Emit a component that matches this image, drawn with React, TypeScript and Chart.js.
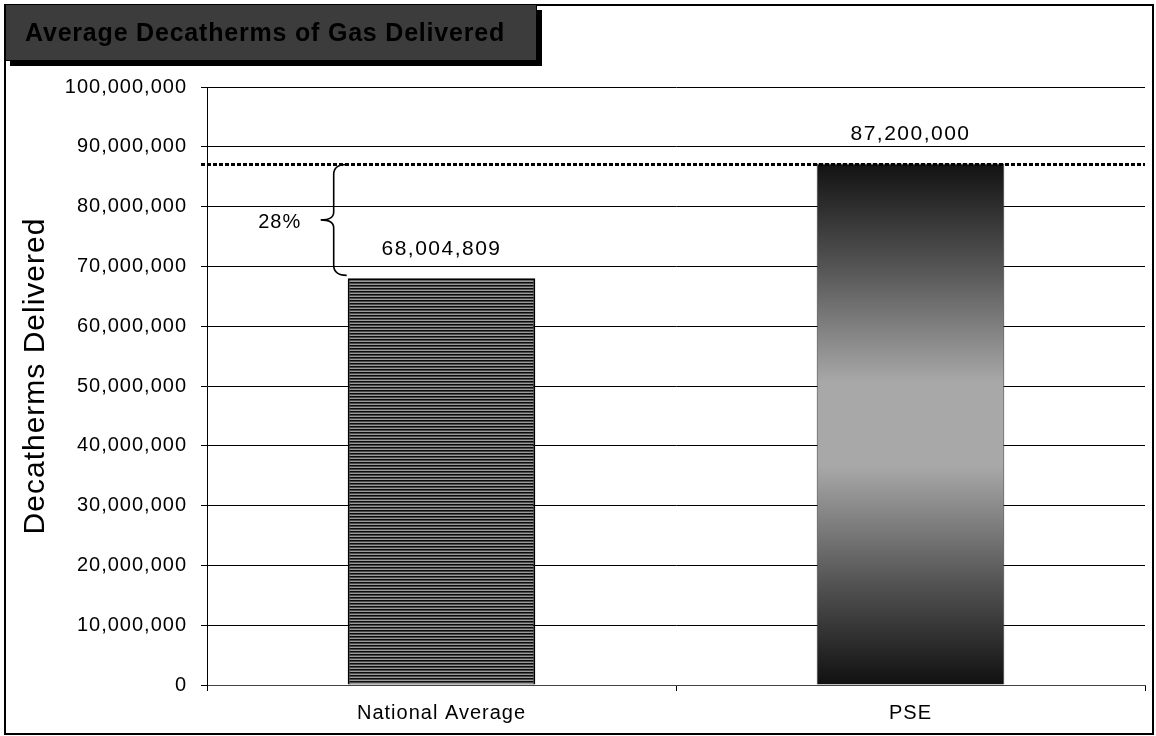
import React, { useEffect, useRef } from "react";
import { Chart, registerables } from "chart.js";

Chart.register(...registerables);

const categories = ["National Average", "PSE"];
const deliveredValues = [68004809, 87200000];
const yTickValues = [0, 10000000, 20000000, 30000000, 40000000, 50000000, 60000000, 70000000, 80000000, 90000000, 100000000];
const chartTitle = "Average Decatherms of Gas Delivered";
const yAxisTitle = "Decatherms Delivered";
const gapLabel = "28%";

const FONT = '"Liberation Sans", Arial, sans-serif';

function makeStripePattern(ctx: CanvasRenderingContext2D) {
  const c = document.createElement("canvas");
  c.width = 4;
  c.height = 3;
  const p = c.getContext("2d")!;
  const rows = ["#0c0c0c", "#4a4a4a", "#9a9a9a"];
  rows.forEach((col, i) => {
    p.fillStyle = col;
    p.fillRect(0, i, 4, 1);
  });
  return ctx.createPattern(c, "repeat");
}

const decorPlugin = {
  id: "decor",
  beforeUpdate(chart: any) {
    chart.ctx.letterSpacing = "1px";
  },
  beforeLayout(chart: any) {
    chart.ctx.letterSpacing = "1px";
  },
  beforeDraw(chart: any) {
    chart.ctx.letterSpacing = "1px";
  },
  afterDatasetsDraw(chart: any) {
    const { ctx, chartArea } = chart;
    const y = chart.scales.y;
    const meta = chart.getDatasetMeta(0);
    ctx.save();
    // dotted reference line at PSE level
    const yRefRaw = y.getPixelForValue(deliveredValues[1]);
    const yRef = Math.round(yRefRaw) + 0.5;
    ctx.setLineDash([4, 2]);
    ctx.lineWidth = 3;
    ctx.strokeStyle = "#000";
    ctx.beginPath();
    ctx.moveTo(chartArea.left - 6, yRef);
    ctx.lineTo(chartArea.right, yRef);
    ctx.stroke();
    ctx.setLineDash([]);

    // value labels
    ctx.letterSpacing = "1.5px";
    ctx.font = `21px ${FONT}`;
    ctx.fillStyle = "#000";
    ctx.textAlign = "center";
    ctx.textBaseline = "middle";
    meta.data.forEach((bar: any, i: number) => {
      ctx.fillText(deliveredValues[i].toLocaleString("en-US"), bar.x, bar.y - 29.5);
    });

    // brace
    const naBar = meta.data[0];
    const left = naBar.x - naBar.width / 2;
    const bx = left - 14;
    const top = yRef;
    const bottom = naBar.y - 3;
    const mid = (top + bottom) / 2;
    ctx.lineWidth = 1.6;
    ctx.strokeStyle = "#000";
    ctx.beginPath();
    ctx.moveTo(bx + 13, top);
    ctx.quadraticCurveTo(bx, top, bx, top + 10);
    ctx.lineTo(bx, mid - 8);
    ctx.quadraticCurveTo(bx, mid, bx - 13, mid);
    ctx.quadraticCurveTo(bx, mid, bx, mid + 8);
    ctx.lineTo(bx, bottom - 10);
    ctx.quadraticCurveTo(bx, bottom, bx + 13, bottom);
    ctx.stroke();
    ctx.font = `20px ${FONT}`;
    ctx.letterSpacing = "1px";
    ctx.fillText(gapLabel, bx - 54, mid + 3);
    ctx.restore();
  },
  afterDraw(chart: any) {
    const { ctx } = chart;
    ctx.save();
    // y axis title
    ctx.translate(36, 376);
    ctx.rotate(-Math.PI / 2);
    ctx.font = `30px ${FONT}`;
    ctx.letterSpacing = "1px";
    ctx.fillStyle = "#000";
    ctx.textAlign = "center";
    ctx.textBaseline = "middle";
    ctx.fillText(yAxisTitle, 0, 0);
    ctx.restore();

    ctx.save();
    // outer frame
    ctx.strokeStyle = "#000";
    ctx.lineWidth = 2;
    ctx.strokeRect(5, 5, 1148, 729);
    // title box shadow
    ctx.fillStyle = "#000";
    ctx.fillRect(10, 10, 532, 56);
    // title box
    ctx.fillStyle = "#3c3c3c";
    ctx.fillRect(5, 4, 532, 57);
    ctx.lineWidth = 1;
    ctx.strokeStyle = "#000";
    ctx.strokeRect(5.5, 4.5, 531, 56);
    ctx.fillStyle = "#000";
    ctx.font = `bold 25px ${FONT}`;
    ctx.letterSpacing = "0.8px";
    ctx.textAlign = "left";
    ctx.textBaseline = "middle";
    ctx.fillText(chartTitle, 25, 34);
    ctx.restore();
  },
};

export default function App() {
  const canvasRef = useRef<HTMLCanvasElement | null>(null);

  useEffect(() => {
    document.body.style.margin = "0";
    const canvas = canvasRef.current!;
    const ctx = canvas.getContext("2d")!;
    const pattern = makeStripePattern(ctx);

    const chart = new Chart(canvas, {
      type: "bar",
      data: {
        labels: categories,
        datasets: [
          {
            data: deliveredValues,
            backgroundColor: (c: any) => {
              if (c.dataIndex === 0) return pattern;
              const ch = c.chart;
              const area = ch.chartArea;
              if (!area) return "#888";
              const top = ch.scales.y.getPixelForValue(deliveredValues[c.dataIndex]);
              const g = ch.ctx.createLinearGradient(0, top, 0, area.bottom);
              g.addColorStop(0, "#121212");
              g.addColorStop(0.2, "#555555");
              g.addColorStop(0.42, "#a8a8a8");
              g.addColorStop(0.58, "#a8a8a8");
              g.addColorStop(0.8, "#555555");
              g.addColorStop(1, "#101010");
              return g;
            },
            borderColor: ["#000000", "#333333"],
            borderWidth: [2, 1],
            barPercentage: 0.4,
            categoryPercentage: 1.0,
          },
        ],
      },
      options: {
        animation: false,
        responsive: false,
        maintainAspectRatio: false,
        layout: { padding: { top: 87, right: 11, left: 0, bottom: 0 } },
        plugins: {
          legend: { display: false },
          title: { display: false },
          tooltip: { enabled: false },
        },
        scales: {
          x: {
            afterFit: (s: any) => {
              s.height = 51;
            },
            ticks: { font: { family: FONT, size: 20 }, color: "#000", padding: 10 },
            grid: { offset: true, drawOnChartArea: false, drawTicks: true, tickLength: 6, color: "#000" },
            border: { color: "#444", width: 1 },
          },
          y: {
            min: 0,
            max: 100000000,
            afterBuildTicks: (s: any) => {
              s.ticks = yTickValues.map((v) => ({ value: v }));
            },
            afterFit: (s: any) => {
              s.width = 207;
            },
            ticks: {
              font: { family: FONT, size: 20 },
              color: "#000",
              padding: 14,
              callback: (v: any) => Number(v).toLocaleString("en-US"),
            },
            grid: { color: "#000", lineWidth: 1, tickLength: 6, drawTicks: true },
            border: { color: "#000", width: 1 },
            title: { display: false },
          },
        },
      },
      plugins: [decorPlugin],
    });
    return () => chart.destroy();
  }, []);

  return (
    <div style={{ width: 1156, height: 736 }}>
      <canvas ref={canvasRef} width={1156} height={736} style={{ display: "block", width: 1156, height: 736 }} />
    </div>
  );
}
